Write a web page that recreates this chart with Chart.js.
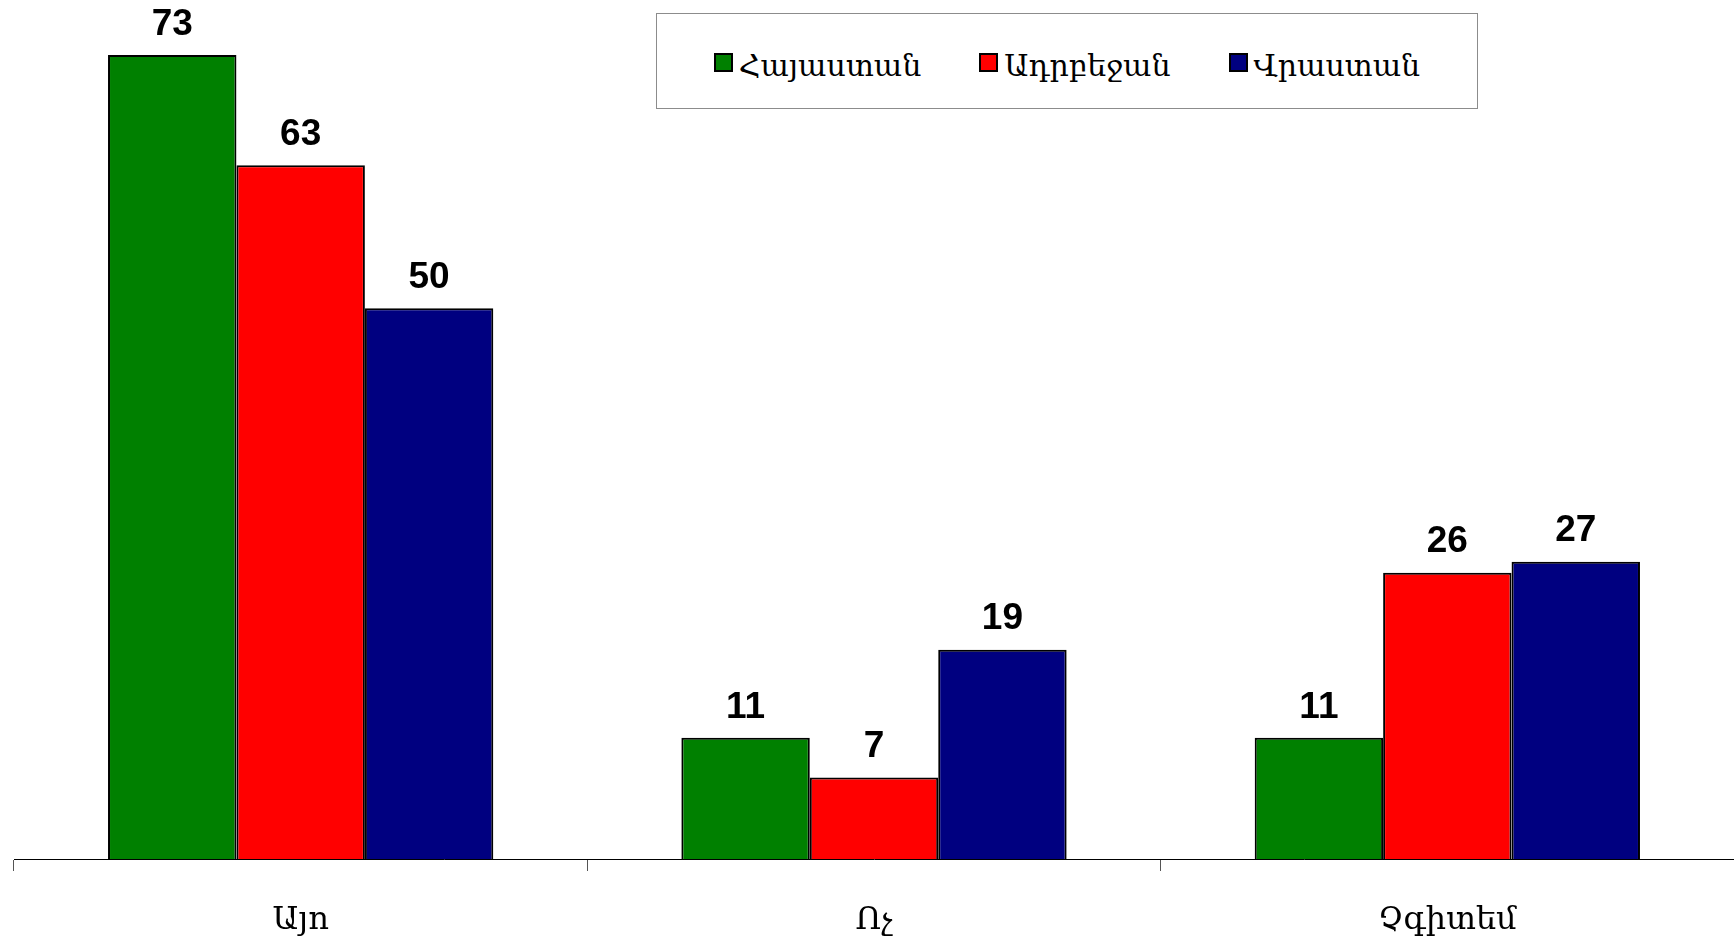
<!DOCTYPE html>
<html>
<head>
<meta charset="utf-8">
<script src="https://cdn.jsdelivr.net/npm/chart.js@4.4.0/dist/chart.umd.min.js"></script>
<style>
    body { margin: 0; background: #fff; }
    #marco { position: relative; width: 1734px; height: 941px; }
    #leyenda {
        position: absolute; left: 656px; top: 13px; width: 820px; height: 86px;
        padding-top: 8px;
        border: 1px solid #8c8c8c; background: #fff;
        display: flex; align-items: center; justify-content: center; gap: 58px;
        font-family: "DejaVu Serif", serif; font-size: 30px; color: #000;
    }
    #leyenda span.item { display: flex; align-items: center; }
    #leyenda span.cuadro {
        width: 15px; height: 15px; border: 2px solid #000; margin-right: 6px;
        position: relative; top: -3px;
    }
</style>
</head>
<body>
<div id="marco">
    <canvas id="grafico" width="1734" height="941"></canvas>
    <div id="leyenda"></div>
</div>
<script>
//Datos
let categorias = ["Այո", "Ոչ", "Չգիտեմ"]
let paises = ["Հայաստան", "Ադրբեջան", "Վրաստան"]
let hayastan = [73, 11, 11]
let adrbejan = [63, 7.4, 26]
let vrastan = [50, 19, 27]
let colores = ["#008000", "#ff0000", "#000080"]

//Etiquetas encima de las barras
const etiquetas = {
    id: 'etiquetas',
    afterDatasetsDraw(chart) {
        const ctx = chart.ctx
        ctx.save()
        ctx.font = 'bold 37px "Liberation Sans", Arial, sans-serif'
        ctx.fillStyle = '#000'
        ctx.textAlign = 'center'
        ctx.textBaseline = 'bottom'
        chart.data.datasets.forEach((ds, i) => {
            chart.getDatasetMeta(i).data.forEach((bar, j) => {
                ctx.fillText(Math.round(ds.data[j]), bar.x, bar.y - 12)
            })
        })
        ctx.restore()
    }
}

const ctx = document.getElementById('grafico');
const grafico = new Chart(ctx, {
    type: 'bar',
    data: {
        labels: categorias,
        datasets: [
            { label: paises[0], data: hayastan, backgroundColor: colores[0], borderColor: '#000', borderWidth: 2 },
            { label: paises[1], data: adrbejan, backgroundColor: colores[1], borderColor: '#000', borderWidth: 2 },
            { label: paises[2], data: vrastan, backgroundColor: colores[2], borderColor: '#000', borderWidth: 2 },
        ]
    },
    options: {
        responsive: false,
        animation: false,
        layout: { padding: { left: 14, right: -4, top: 0, bottom: 0 } },
        datasets: { bar: { barPercentage: 1, categoryPercentage: 0.672 } },
        scales: {
            y: { display: false, min: 0, max: 78 },
            x: {
                grid: { offset: true, drawOnChartArea: false, tickLength: 12, tickColor: '#555' },
                border: { color: '#000', width: 1 },
                ticks: {
                    color: '#000',
                    padding: 30,
                    font: { family: '"DejaVu Serif", serif', size: 32 }
                },
                afterFit(scale) { scale.height = 82 }
            }
        },
        plugins: {
            legend: { display: false },
            tooltip: { enabled: false }
        }
    },
    plugins: [etiquetas]
});

//Leyenda
let leyenda = document.getElementById('leyenda')
grafico.data.datasets.forEach((ds) => {
    let item = document.createElement('span')
    item.className = 'item'
    let cuadro = document.createElement('span')
    cuadro.className = 'cuadro'
    cuadro.style.background = ds.backgroundColor
    item.appendChild(cuadro)
    item.appendChild(document.createTextNode(ds.label))
    leyenda.appendChild(item)
})
</script>
</body>
</html>
